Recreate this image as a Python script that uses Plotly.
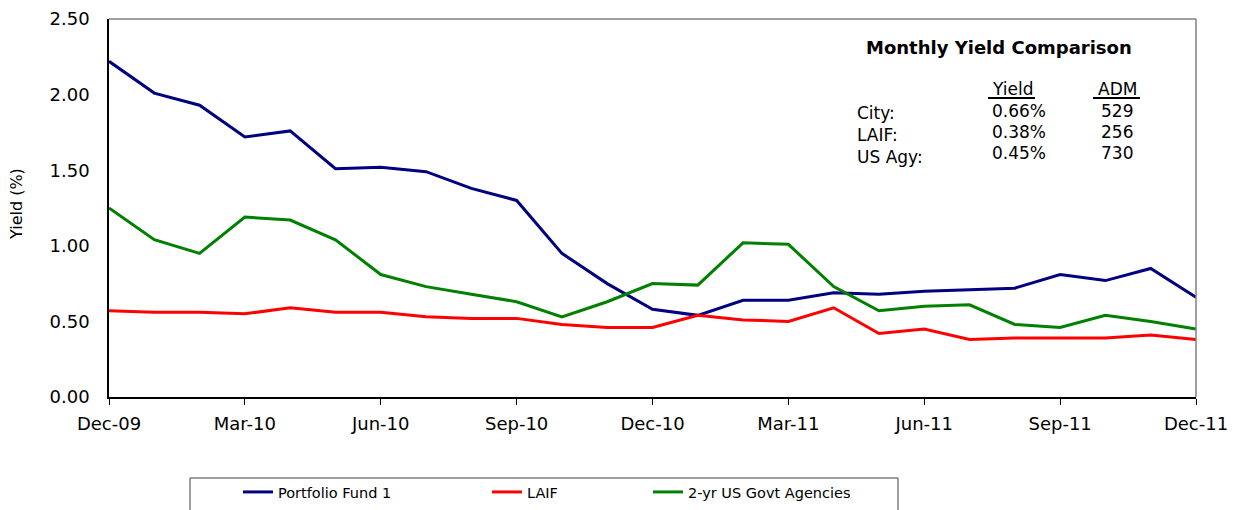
import plotly.graph_objects as go

# Month labels (categories) and yields (%)
MONTHS = [
    "Dec-09", "Jan-10", "Feb-10", "Mar-10", "Apr-10", "May-10", "Jun-10",
    "Jul-10", "Aug-10", "Sep-10", "Oct-10", "Nov-10", "Dec-10", "Jan-11",
    "Feb-11", "Mar-11", "Apr-11", "May-11", "Jun-11", "Jul-11", "Aug-11",
    "Sep-11", "Oct-11", "Nov-11", "Dec-11",
]
PORTFOLIO_FUND = [
    2.22, 2.01, 1.93, 1.72, 1.76, 1.51, 1.52, 1.49, 1.38, 1.30, 0.95, 0.75,
    0.58, 0.54, 0.64, 0.64, 0.69, 0.68, 0.70, 0.71, 0.72, 0.81, 0.77, 0.85, 0.66,
]
LAIF = [
    0.57, 0.56, 0.56, 0.55, 0.59, 0.56, 0.56, 0.53, 0.52, 0.52, 0.48, 0.46,
    0.46, 0.54, 0.51, 0.50, 0.59, 0.42, 0.45, 0.38, 0.39, 0.39, 0.39, 0.41, 0.38,
]
US_AGENCIES = [
    1.25, 1.04, 0.95, 1.19, 1.17, 1.04, 0.81, 0.73, 0.68, 0.63, 0.53, 0.63,
    0.75, 0.74, 1.02, 1.01, 0.73, 0.57, 0.60, 0.61, 0.48, 0.46, 0.54, 0.50, 0.45,
]
X_TICKS = MONTHS[::3]
Y_TICKS = [0.0, 0.5, 1.0, 1.5, 2.0, 2.5]

# summary table in the upper right
TABLE_ROWS = ["City:", "LAIF:", "US Agy:"]
TABLE_YIELD = ["0.66%", "0.38%", "0.45%"]
TABLE_ADM = ["529", "256", "730"]

FONT = "DejaVu Sans"
OFF = 8  # page body margin
W, H = 1241 - OFF, 510 - OFF
L, R, T, B = 109 - OFF, 45, 11, 113
PW, PH = W - L - R, H - T - B


def px_x(px):
    """screen x pixel -> paper fraction"""
    return (px - OFF - L) / PW


def px_y(py):
    """screen y pixel -> paper fraction"""
    return (H - B - (py - OFF)) / PH


series = [
    ("Portfolio Fund 1", PORTFOLIO_FUND, "#000080", "legend", 278),
    ("LAIF", LAIF, "#FF0000", "legend2", 527),
    ("2-yr US Govt Agencies", US_AGENCIES, "#008000", "legend3", 688),
]

fig = go.Figure()
for name, vals, color, leg, _ in series:
    fig.add_trace(go.Scatter(
        x=MONTHS, y=vals, name=name, mode="lines", legend=leg,
        line=dict(color=color, width=3),
    ))

legend_common = dict(
    orientation="h", yanchor="middle", xanchor="left",
    bgcolor="rgba(0,0,0,0)", borderwidth=0,
    font=dict(family=FONT, size=14.5, color="black"),
)
legends = {}
for name, _, _, leg, text_x in series:
    legends[leg] = dict(legend_common, x=px_x(text_x - 40), y=px_y(492))

fig.update_layout(
    width=W, height=H,
    margin=dict(l=L, r=R, t=T, b=B, autoexpand=False),
    plot_bgcolor="white", paper_bgcolor="white",
    font=dict(family=FONT, color="black"),
    showlegend=True,
    **legends,
)

fig.update_xaxes(
    type="category", range=[0, len(MONTHS) - 1],
    tickmode="array", tickvals=X_TICKS, ticktext=X_TICKS,
    ticks="outside", ticklen=6, tickcolor="black", tickwidth=1,
    ticklabelstandoff=4, ticklabeloverflow="allow",
    showline=True, linecolor="black", linewidth=1.5,
    showgrid=False, zeroline=False,
    tickfont=dict(family=FONT, size=18, color="black"),
)
fig.update_yaxes(
    range=[0, 2.5], tickmode="array", tickvals=Y_TICKS, tickformat=".2f",
    ticks="", ticklabelstandoff=14, ticklabeloverflow="allow",
    showline=True, linecolor="black", linewidth=1.5,
    showgrid=False, zeroline=False,
    tickfont=dict(family=FONT, size=18, color="black"),
)

# gray top and right frame edges
fig.add_shape(type="line", xref="paper", yref="paper", x0=0, x1=1, y0=1, y1=1,
              line=dict(color="#808080", width=1.5))
fig.add_shape(type="line", xref="paper", yref="paper", x0=1, x1=1, y0=0, y1=1,
              line=dict(color="#808080", width=1.5))

# legend box
fig.add_shape(type="rect", xref="paper", yref="paper",
              x0=px_x(190), x1=px_x(898), y0=px_y(478), y1=px_y(520),
              line=dict(color="#404040", width=1), fillcolor="rgba(0,0,0,0)")

# y axis title
fig.add_annotation(text="Yield (%)", xref="paper", yref="paper",
                   x=px_x(16), y=px_y(204), textangle=-90, showarrow=False,
                   xanchor="center", yanchor="middle",
                   font=dict(family=FONT, size=16, color="black"))

# summary table
fig.add_annotation(text="<b>Monthly Yield Comparison</b>", xref="paper", yref="paper",
                   x=px_x(999), y=px_y(47), showarrow=False,
                   xanchor="center", yanchor="middle",
                   font=dict(family=FONT, size=18, color="black"))
for txt, cx in [("Yield", 1012), ("ADM", 1117)]:
    fig.add_annotation(text=txt, xref="paper", yref="paper",
                       x=px_x(cx), y=px_y(89), showarrow=False,
                       xanchor="center", yanchor="middle",
                       font=dict(family=FONT, size=17, color="black"))
for x0, x1 in [(988, 1035), (1093, 1140)]:
    fig.add_shape(type="line", xref="paper", yref="paper",
                  x0=px_x(x0), x1=px_x(x1), y0=px_y(98), y1=px_y(98),
                  line=dict(color="black", width=2))
for i, (lab, yld, adm) in enumerate(zip(TABLE_ROWS, TABLE_YIELD, TABLE_ADM)):
    fig.add_annotation(text=lab, xref="paper", yref="paper",
                       x=px_x(855), y=px_y(113 + 22 * i), showarrow=False,
                       xanchor="left", yanchor="middle",
                       font=dict(family=FONT, size=17, color="black"))
    fig.add_annotation(text=yld, xref="paper", yref="paper",
                       x=px_x(1019), y=px_y(111 + 21 * i), showarrow=False,
                       xanchor="center", yanchor="middle",
                       font=dict(family=FONT, size=17, color="black"))
    fig.add_annotation(text=adm, xref="paper", yref="paper",
                       x=px_x(1117), y=px_y(111 + 21 * i), showarrow=False,
                       xanchor="center", yanchor="middle",
                       font=dict(family=FONT, size=17, color="black"))

fig.write_html("out.html")
